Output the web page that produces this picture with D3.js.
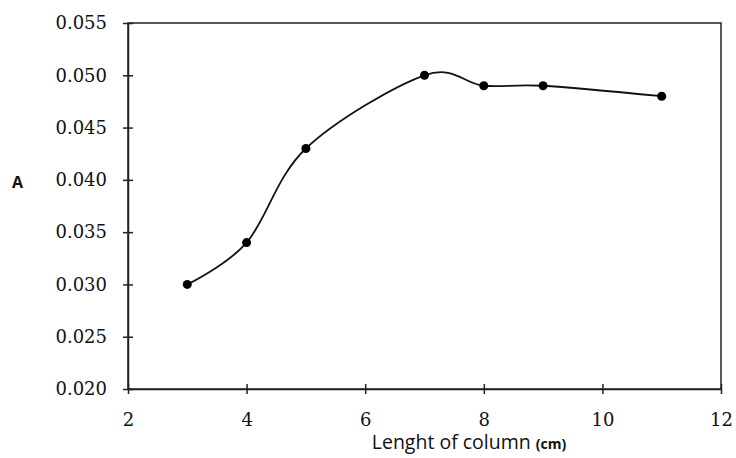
<!DOCTYPE html>
<html>
<head>
<meta charset="utf-8">
<script src="https://cdnjs.cloudflare.com/ajax/libs/d3/7.8.5/d3.min.js"></script>
<style>
  body { margin: 0; background: #fff; }
</style>
</head>
<body>
<div id="chart"></div>
<script>
// column length (cm) and absorbance
var lengths = [3, 4, 5, 7, 8, 9, 11];
var absorbance = [0.030, 0.034, 0.043, 0.050, 0.049, 0.049, 0.048];
var xTicks = [2, 4, 6, 8, 10, 12];
var yTicks = [0.020, 0.025, 0.030, 0.035, 0.040, 0.045, 0.050, 0.055];

var width = 736, height = 458;
var margin = {top: 23, right: 15, bottom: 69, left: 128};

var svg = d3.select("#chart").append("svg")
    .attr("width", width)
    .attr("height", height);

var x = d3.scaleLinear().domain([2, 12]).range([margin.left, width - margin.right]);
var y = d3.scaleLinear().domain([0.020, 0.055]).range([height - margin.bottom, margin.top]);

var tickFont = "'DejaVu Serif', serif";

// frame
svg.append("rect")
    .attr("x", x(2))
    .attr("y", y(0.055))
    .attr("width", x(12) - x(2))
    .attr("height", y(0.020) - y(0.055))
    .style("fill", "none")
    .style("stroke", "#222")
    .style("stroke-width", 1.5);

var xAxis = svg.append("g")
    .attr("transform", "translate(0," + y(0.020) + ")")
    .call(d3.axisBottom(x).tickValues(xTicks).tickSize(5).tickSizeOuter(0).tickFormat(d3.format("d")));
var yAxis = svg.append("g")
    .attr("transform", "translate(" + x(2) + ",0)")
    .call(d3.axisLeft(y).tickValues(yTicks).tickSize(5).tickSizeOuter(0).tickFormat(d3.format(".3f")));

[xAxis, yAxis].forEach(function(g) {
  g.select(".domain").style("stroke", "#222").style("stroke-width", 1.5);
  g.selectAll(".tick line").style("stroke", "#222").style("stroke-width", 1.5);
  g.selectAll(".tick text")
      .attr("fill", "#111")
      .style("font-family", tickFont)
      .style("font-size", "18px");
});
// ticks cross the axis line
xAxis.selectAll(".tick line").attr("y1", -5);
yAxis.selectAll(".tick line").attr("x1", 5);
xAxis.selectAll(".tick text").attr("dy", "1.6em");
yAxis.selectAll(".tick text").attr("x", -21);

// smoothed line like the spreadsheet "smooth line" option
var line = d3.line()
    .x(function(d, i) { return x(lengths[i]); })
    .y(function(d) { return y(d); })
    .curve(d3.curveCardinal.tension(0));

svg.append("path")
    .datum(absorbance)
    .attr("d", line)
    .style("fill", "none")
    .style("stroke", "#111")
    .style("stroke-width", 1.8);

svg.selectAll("circle.pt")
    .data(absorbance)
    .enter().append("circle")
    .attr("class", "pt")
    .attr("cx", function(d, i) { return x(lengths[i]); })
    .attr("cy", function(d) { return y(d); })
    .attr("r", 4.5)
    .style("fill", "#000");

// axis titles
var xTitle = svg.append("text")
    .attr("x", 469)
    .attr("y", 449)
    .attr("text-anchor", "middle")
    .attr("fill", "#111")
    .style("font-family", "'Open Sans', sans-serif")
    .style("font-size", "19.5px");
xTitle.append("tspan").text("Lenght of column ");
xTitle.append("tspan").text("(cm)").style("font-size", "14px").style("font-weight", "bold");

svg.append("text")
    .text("A")
    .attr("x", 12)
    .attr("y", 188)
    .attr("fill", "#111")
    .style("font-family", "'Open Sans', sans-serif")
    .style("font-size", "16px")
    .style("font-weight", "bold");
</script>
</body>
</html>
